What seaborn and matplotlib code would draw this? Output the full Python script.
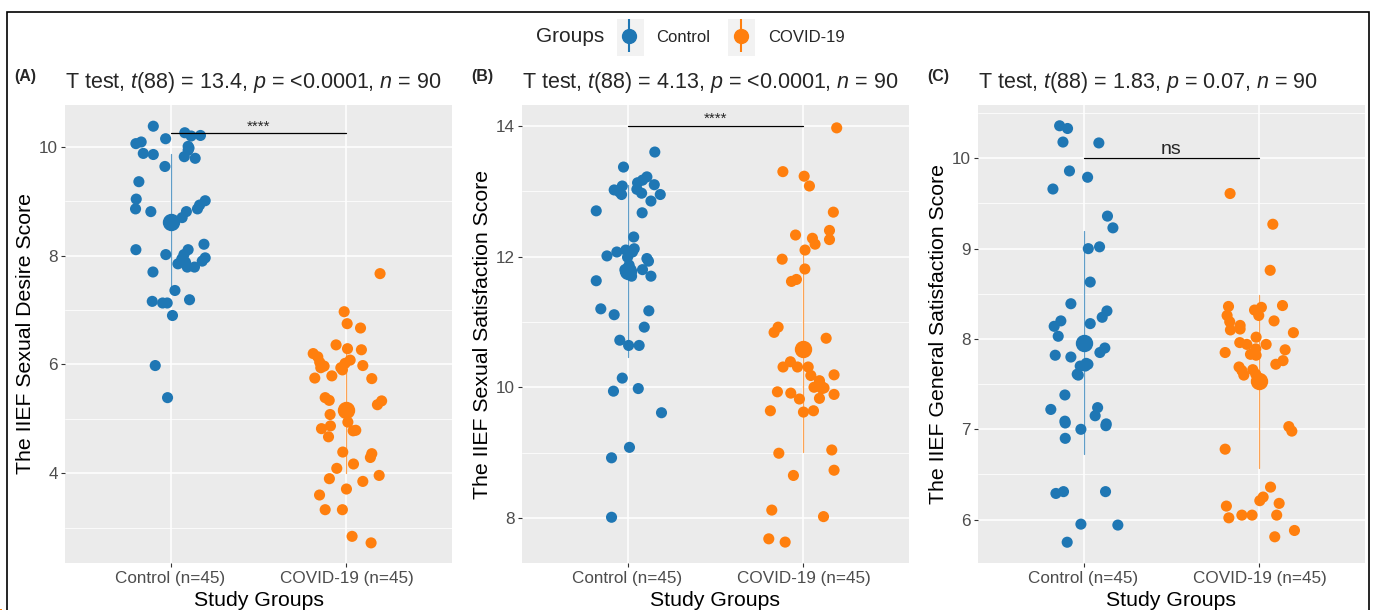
import numpy as np
import pandas as pd
import matplotlib
matplotlib.use('Agg')
import matplotlib.pyplot as plt
import seaborn as sns
from matplotlib.patches import Rectangle
from matplotlib.container import ErrorbarContainer
from matplotlib.legend_handler import HandlerErrorbar

# groups and tick labels
groups = ['Control', 'COVID-19']
group_ticks = ['Control (n=45)', 'COVID-19 (n=45)']
colors = ['#1F77B4', '#FF7F0E']

# (A) sexual desire score
desire_ctrl = [10.38, 10.26, 10.20, 10.21, 10.15, 10.06, 10.09, 10.01, 9.94, 9.88,
               9.86, 9.82, 9.79, 9.64, 9.36, 9.04, 8.86, 8.81, 9.01, 8.93,
               8.86, 8.81, 8.70, 8.11, 8.02, 8.21, 8.11, 8.02, 7.94, 7.96,
               7.90, 7.85, 7.79, 7.79, 7.70, 7.36, 7.16, 7.13, 7.13, 7.19,
               6.90, 5.98, 5.39, 7.88, 9.98]
desire_ctrl_jit = [-0.098, 0.081, 0.117, 0.17, -0.028, -0.197, -0.167, 0.10, 0.10, -0.155,
                   -0.098, 0.078, 0.14, -0.032, -0.18, -0.195, -0.199, -0.112, 0.197, 0.165,
                   0.153, 0.09, 0.066, -0.197, -0.027, 0.19, 0.10, 0.076, 0.064, 0.197,
                   0.18, 0.042, 0.095, 0.136, -0.10, 0.025, -0.104, -0.045, -0.019, 0.108,
                   0.011, -0.087, -0.017, 0.085, 0.105]
desire_covid = [7.67, 6.97, 6.75, 6.67, 6.36, 6.29, 6.27, 6.20, 6.14, 6.04,
                5.97, 5.94, 6.08, 6.02, 5.94, 5.90, 5.98, 5.75, 5.79, 5.74,
                5.39, 5.34, 5.33, 5.26, 5.08, 4.94, 4.82, 4.87, 4.67, 4.78,
                4.79, 4.39, 4.36, 4.29, 4.09, 4.17, 3.90, 3.96, 3.85, 3.71,
                3.60, 3.33, 3.33, 2.84, 2.72]
desire_covid_jit = [0.191, -0.013, 0.004, 0.08, -0.059, 0.006, 0.085, -0.189, -0.163, -0.152,
                    -0.127, -0.146, 0.021, -0.008, -0.032, -0.023, 0.093, -0.18, -0.083, 0.144,
                    -0.121, -0.098, 0.20, 0.176, -0.093, 0.008, -0.142, -0.091, -0.102, 0.038,
                    0.053, -0.021, 0.144, 0.136, -0.055, 0.04, -0.097, 0.186, 0.093, 0.0,
                    -0.153, -0.121, -0.023, 0.032, 0.14]

# (B) sexual satisfaction score
sexsat_ctrl = [13.60, 13.37, 13.22, 13.17, 13.13, 13.10, 13.08, 13.02, 12.99, 12.95,
               13.03, 12.97, 12.95, 12.85, 12.70, 12.67, 12.12, 12.07, 12.07, 12.01,
               11.99, 11.97, 11.93, 11.87, 11.80, 11.80, 11.70, 11.70, 11.63, 11.20,
               11.11, 11.17, 10.92, 10.72, 10.64, 10.64, 10.14, 9.94, 9.98, 9.61,
               9.08, 8.92, 8.01, 12.30, 12.10]
sexsat_ctrl_jit = [0.155, -0.023, 0.11, 0.085, 0.057, 0.152, -0.03, -0.076, -0.047, -0.034,
                   0.053, 0.08, 0.186, 0.133, -0.178, 0.083, 0.038, 0.028, -0.061, -0.117,
                   0.0, 0.11, 0.119, 0.009, -0.015, 0.085, 0.023, 0.133, -0.178, -0.152,
                   -0.076, 0.121, 0.095, -0.044, 0.006, 0.066, -0.03, -0.08, 0.061, 0.193,
                   0.011, -0.091, -0.091, 0.035, -0.01]
sexsat_covid = [13.97, 13.30, 13.23, 13.08, 12.68, 12.40, 12.33, 12.28, 12.26, 12.19,
                12.10, 11.96, 11.81, 11.62, 11.65, 10.92, 10.84, 10.75, 10.39, 10.31,
                10.31, 10.31, 10.18, 10.19, 10.10, 10.03, 9.99, 9.93, 9.91, 9.82,
                9.83, 9.89, 9.64, 9.62, 9.64, 8.99, 9.04, 8.73, 8.65, 8.12,
                8.02, 7.68, 7.63, 10.0, 9.98]
sexsat_covid_jit = [0.189, -0.117, 0.004, 0.034, 0.17, 0.148, -0.045, 0.051, 0.148, 0.066,
                    0.009, -0.121, 0.008, -0.068, -0.04, -0.144, -0.167, 0.129, -0.074, -0.116,
                    -0.034, 0.027, 0.042, 0.174, 0.091, 0.098, 0.117, -0.148, -0.072, -0.023,
                    0.091, 0.174, -0.188, 0.0, 0.057, -0.14, 0.161, 0.174, -0.057, -0.18,
                    0.114, -0.197, -0.104, 0.06, 0.105]

# (C) general satisfaction score
gensat_ctrl = [10.36, 10.33, 10.18, 10.17, 9.86, 9.79, 9.66, 9.36, 9.23, 9.00,
               9.02, 8.63, 8.39, 8.31, 8.24, 8.20, 8.14, 8.17, 8.03, 7.90,
               7.85, 7.82, 7.80, 7.73, 7.70, 7.61, 7.38, 7.22, 7.24, 7.15,
               7.06, 7.09, 7.00, 6.90, 6.29, 6.31, 6.31, 5.95, 5.94, 5.75,
               7.72, 7.70, 7.60, 7.07, 7.04]
gensat_ctrl_jit = [-0.136, -0.091, -0.117, 0.087, -0.08, 0.023, -0.174, 0.136, 0.167, 0.027,
                   0.091, 0.038, -0.072, 0.133, 0.106, -0.129, -0.167, 0.038, -0.144, 0.121,
                   0.093, -0.161, -0.072, 0.015, -0.019, -0.036, -0.106, -0.186, 0.08, 0.066,
                   0.129, -0.106, -0.015, -0.104, -0.157, -0.114, 0.125, -0.015, 0.195, -0.093,
                   0.025, 0.01, -0.03, -0.104, 0.127]
gensat_covid = [9.61, 9.27, 8.76, 8.36, 8.37, 8.35, 8.32, 8.26, 8.26, 8.19,
                8.20, 8.10, 8.11, 8.07, 8.02, 7.96, 7.94, 7.94, 7.85, 7.88,
                7.89, 7.83, 7.82, 7.76, 7.72, 7.69, 7.65, 7.60, 7.66, 7.61,
                7.03, 6.98, 6.78, 6.36, 6.25, 6.21, 6.15, 6.18, 6.02, 6.05,
                6.05, 6.05, 5.88, 5.81, 8.15]
gensat_covid_jit = [-0.167, 0.076, 0.061, -0.176, 0.131, 0.011, -0.028, -0.004, -0.184, -0.169,
                    0.083, -0.165, -0.11, 0.193, -0.019, -0.112, -0.072, 0.038, -0.195, 0.146,
                    -0.021, -0.051, -0.019, 0.134, 0.093, -0.116, -0.1, -0.089, -0.038, -0.021,
                    0.167, 0.184, -0.195, 0.063, 0.021, 0.002, -0.188, 0.112, -0.174, -0.1,
                    -0.042, 0.098, 0.199, 0.087, -0.11]

panels = [
    dict(tag='(A)', ylabel='The IIEF Sexual Desire Score',
         title='T test, $\\it{t}$(88) = 13.4, $\\it{p}$ = <0.0001, $\\it{n}$ = 90',
         ctrl=desire_ctrl, ctrl_jit=desire_ctrl_jit, covid=desire_covid, covid_jit=desire_covid_jit,
         ylim=(2.35, 10.77), major=[4, 6, 8, 10], minor=[3, 5, 7, 9], bracket=10.25, sig='****'),
    dict(tag='(B)', ylabel='The IIEF Sexual Satisfaction Score',
         title='T test, $\\it{t}$(88) = 4.13, $\\it{p}$ = <0.0001, $\\it{n}$ = 90',
         ctrl=sexsat_ctrl, ctrl_jit=sexsat_ctrl_jit, covid=sexsat_covid, covid_jit=sexsat_covid_jit,
         ylim=(7.31, 14.32), major=[8, 10, 12, 14], minor=[9, 11, 13], bracket=14.0, sig='****'),
    dict(tag='(C)', ylabel='The IIEF General Satisfaction Score',
         title='T test, $\\it{t}$(88) = 1.83, $\\it{p}$ = 0.07, $\\it{n}$ = 90',
         ctrl=gensat_ctrl, ctrl_jit=gensat_ctrl_jit, covid=gensat_covid, covid_jit=gensat_covid_jit,
         ylim=(5.52, 10.59), major=[6, 7, 8, 9, 10], minor=[6.5, 7.5, 8.5, 9.5, 10.5], bracket=10.0, sig='ns'),
]

sns.set_theme(style='darkgrid')
plt.rcParams['font.family'] = ['Liberation Sans', 'DejaVu Sans']
plt.rcParams['mathtext.fontset'] = 'custom'
plt.rcParams['mathtext.rm'] = 'Liberation Sans'
plt.rcParams['mathtext.it'] = 'Liberation Sans:italic'

fig = plt.figure(figsize=(13.73, 6.10), dpi=100)
fig.patch.set_facecolor('white')

# axes rectangles (pixels: left, width) on a 1373 x 610 canvas
lefts = [65, 522, 978]
for p, left in zip(panels, lefts):
    ax = fig.add_axes([left / 1373, 47 / 610, 387 / 1373, 458 / 610])
    ax.set_facecolor('#EBEBEB')

    df = pd.DataFrame({
        'group': [groups[0]] * len(p['ctrl']) + [groups[1]] * len(p['covid']),
        'score': p['ctrl'] + p['covid'],
        'jit': p['ctrl_jit'] + p['covid_jit'],
    })
    df['xpos'] = df['group'].map({g: i for i, g in enumerate(groups)}) + df['jit']

    sns.scatterplot(data=df, x='xpos', y='score', hue='group', palette=colors,
                    hue_order=groups, s=64, edgecolor='none', linewidth=0,
                    legend=False, ax=ax, zorder=3)
    sns.pointplot(data=df, x='group', y='score', hue='group', order=groups,
                  hue_order=groups, palette=colors, errorbar='sd', markers='o',
                  markersize=10.5, linestyle='none', legend=False, ax=ax,
                  err_kws={'linewidth': 0.9, 'alpha': 0.7}, zorder=4)

    ax.set_xlim(-0.6, 1.6)
    ax.set_xticks([0, 1])
    ax.set_xticklabels(group_ticks)
    ax.set_ylim(*p['ylim'])
    ax.set_yticks(p['major'])
    ax.set_yticks(p['minor'], minor=True)
    ax.grid(which='major', color='white', linewidth=1.1)
    ax.grid(which='minor', color='white', linewidth=0.55)
    ax.grid(which='major', axis='x', color='white', linewidth=1.1)
    ax.set_axisbelow(True)
    for s in ax.spines.values():
        s.set_visible(False)
    ax.tick_params(which='major', length=3, width=0.8, color='#333333',
                   labelsize=12.3, labelcolor='#4D4D4D', pad=2,
                   bottom=True, left=True)
    ax.tick_params(axis='x', pad=3)
    ax.tick_params(which='minor', length=0)
    ax.set_xlabel('Study Groups', fontsize=15.3, labelpad=3, color='black')
    ax.set_ylabel(p['ylabel'], fontsize=15.3, labelpad=3, color='black')

    # significance bracket
    ax.plot([0, 1], [p['bracket'], p['bracket']], color='black', lw=0.9, zorder=5)
    ax.text(0.5, p['bracket'], p['sig'], ha='center', va='bottom',
            fontsize=11 if p['sig'] == '****' else 14)

    ax.text(0.0, 1.05, p['title'], transform=ax.transAxes, ha='left',
            va='center', fontsize=15.5)
    ax.text(-0.13, 1.063, p['tag'], transform=ax.transAxes, ha='left',
            va='center', fontsize=11.5, fontweight='bold')

# legend
lax = fig.add_axes([0, 0, 0.001, 0.001])
lax.set_axis_off()
handles = []
for c in colors:
    h = lax.errorbar([0], [0], yerr=[1], fmt='o', color=c, ms=10, elinewidth=1.5)
    handles.append(h)
for x0 in [617, 728]:
    fig.patches.append(Rectangle((x0 / 1373, (610 - 56) / 610), 27 / 1373, 37 / 610,
                                 transform=fig.transFigure, facecolor='#F2F2F2',
                                 edgecolor='none', zorder=0))
fig.text(570 / 1373, 1 - 37 / 610, 'Groups', ha='center', va='center', fontsize=15)
fig.legend(handles=handles, labels=groups, ncol=2, loc='center left',
           bbox_to_anchor=(621 / 1373, 1 - 37 / 610), frameon=False,
           fontsize=12, handlelength=0.9, handletextpad=1.2, columnspacing=1.4,
           borderpad=0, borderaxespad=0,
           handler_map={ErrorbarContainer: HandlerErrorbar(yerr_size=1.0)})

# outer frame
fig.patches.append(Rectangle((7 / 1373, -0.05), 1362 / 1373, 1.05 - 12 / 610,
                             transform=fig.transFigure, fill=False,
                             edgecolor='black', linewidth=1.2))

fig.savefig('out.png', dpi=100)
